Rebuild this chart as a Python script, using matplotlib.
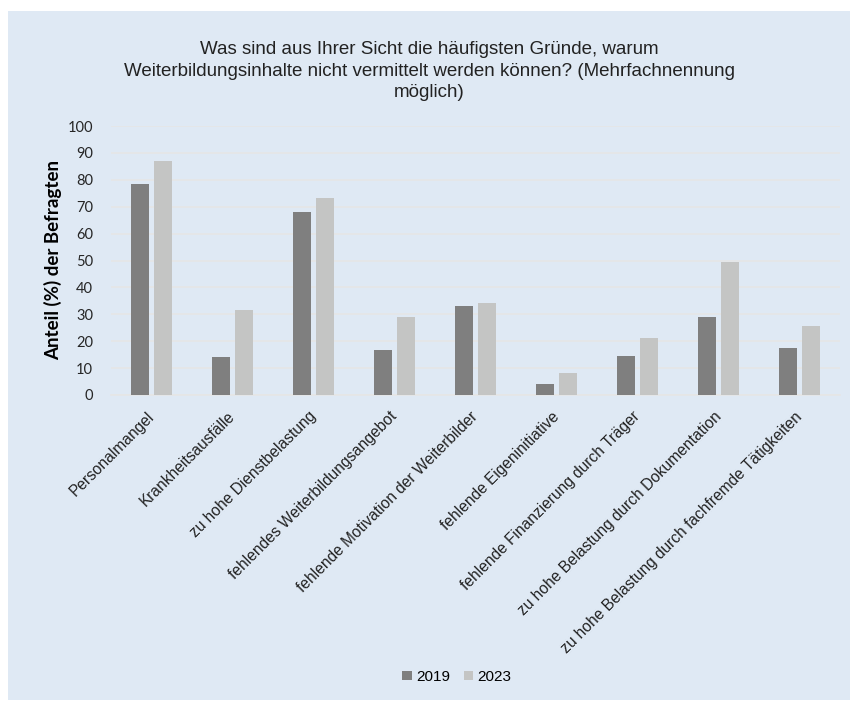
import numpy as np
import matplotlib.pyplot as plt
import matplotlib.transforms as mtransforms
from matplotlib.patches import Rectangle

categories = ['Personalmangel', 'Krankheitsausfälle', 'zu hohe Dienstbelastung',
              'fehlendes Weiterbildungsangebot', 'fehlende Motivation der Weiterbilder',
              'fehlende Eigeninitiative', 'fehlende Finanzierung durch Träger',
              'zu hohe Belastung durch Dokumentation',
              'zu hohe Belastung durch fachfremde Tätigkeiten']
werte_2019 = [78.3, 14.2, 68.0, 16.7, 33.0, 4.1, 14.4, 29.0, 17.5]
werte_2023 = [87.0, 31.6, 73.2, 29.0, 34.1, 8.3, 21.1, 49.6, 25.8]
y_ticks = [0, 10, 20, 30, 40, 50, 60, 70, 80, 90, 100]

bg = '#dfe9f4'
fig = plt.figure(figsize=(8.58, 7.10), dpi=100)
fig.patch.set_facecolor('white')
# hellblauer Rahmen
fig.add_artist(Rectangle((8/858, 10/710), 842/858, 689/710, transform=fig.transFigure,
                         facecolor=bg, edgecolor='none', zorder=-10))

ax = fig.add_axes([111/858, 315/710, 729/858, 269/710])
ax.set_zorder(2)
ax.set_facecolor(bg)

x = np.arange(len(categories))
w = 0.222
ax.bar(x - 0.142, werte_2019, w, color='#7f7f7f', label='2019', zorder=3)
ax.bar(x + 0.142, werte_2023, w, color='#c4c5c4', label='2023', zorder=3)

ax.set_xlim(-0.5, len(categories) - 0.5)
ax.set_ylim(0, 100)
ax.set_yticks(y_ticks)
ax.set_yticklabels([str(t) for t in y_ticks], fontsize=10.5, family='Lato', color='#262626')
ax.grid(axis='y', color='#e6e6e6', linewidth=1.2, zorder=0)
for s in ['top', 'right', 'left']:
    ax.spines[s].set_visible(False)
ax.spines['bottom'].set_color('#e6e6e6')
ax.spines['bottom'].set_linewidth(1.2)
ax.tick_params(axis='both', length=0)
ax.tick_params(axis='y', pad=13)

ax.set_xticks(x)
ax.set_xticklabels(categories, rotation=45, ha='right', va='top', rotation_mode='anchor',
                   fontsize=11.2, family='Liberation Sans', color='#222222')
ax.tick_params(axis='x', pad=10)
# Beschriftungen etwas nach links ruecken
shift = mtransforms.ScaledTranslation(-5/100, 0, fig.dpi_scale_trans)
for lab in ax.get_xticklabels():
    lab.set_transform(lab.get_transform() + shift)

ax.set_ylabel('Anteil (%) der Befragten', fontsize=13.5, fontweight='bold', family='Lato',
              labelpad=4)

fig.text(0.5, 1 - 71/710, 'Was sind aus Ihrer Sicht die häufigsten Gründe, warum\n'
         'Weiterbildungsinhalte nicht vermittelt werden können? (Mehrfachnennung\nmöglich)',
         ha='center', va='center', fontsize=13.5, family='Liberation Sans', color='#222222',
         linespacing=1.32)

fig.legend(loc='center', bbox_to_anchor=(457/858, 1 - 677/710), ncol=2, frameon=False,
           handlelength=0.6, handleheight=0.6, handletextpad=0.3,
           columnspacing=0.9, prop={'family': 'Liberation Sans', 'size': 11})

fig.savefig('out.png', dpi=100)
